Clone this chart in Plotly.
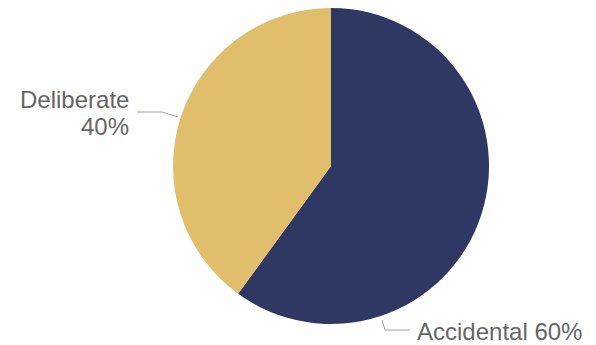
import plotly.graph_objects as go

labels = ["Accidental", "Deliberate"]
values = [60, 40]
colors = ["#2f3863", "#e0be6b"]

W, H = 596, 345

def px(x, y):
    return x / W, 1 - y / H

cx, cy, r = 331, 166, 158

fig = go.Figure(go.Pie(
    labels=labels, values=values, sort=False, direction="clockwise", rotation=0,
    marker=dict(colors=colors, line=dict(width=0)),
    textinfo="none", hoverinfo="label+percent",
    domain=dict(x=[(cx - r) / W, (cx + r) / W], y=[1 - (cy + r) / H, 1 - (cy - r) / H]),
))

font = dict(family="Liberation Sans, Arial, sans-serif", size=24, color="#666666")
ann = []
def add(text, x, y, xa):
    X, Y = px(x, y)
    ann.append(dict(text=text, x=X, y=Y, xref="paper", yref="paper", xanchor=xa,
                    yanchor="middle", showarrow=False, font=font, borderpad=0))

total = sum(values)
add(labels[1], 130, 99, "right")
add(f"{round(values[1] / total * 100)}%", 130, 127, "right")
add(f"{labels[0]} {round(values[0] / total * 100)}%", 416, 331, "left")

def path(pts):
    s = ""
    for i, (x, y) in enumerate(pts):
        X, Y = px(x, y)
        s += ("M" if i == 0 else "L") + f"{X},{Y} "
    return s.strip()

line = dict(color="#a0a0a0", width=1)
shapes = [
    dict(type="path", xref="paper", yref="paper", path=path([(137, 112), (162, 112), (178, 117)]), line=line),
    dict(type="path", xref="paper", yref="paper", path=path([(382, 320), (385, 330), (410, 330)]), line=line),
]

fig.update_layout(width=W, height=H, margin=dict(l=0, r=0, t=0, b=0),
                  paper_bgcolor="white", plot_bgcolor="white", showlegend=False,
                  annotations=ann, shapes=shapes)
fig.write_html("out.html")
